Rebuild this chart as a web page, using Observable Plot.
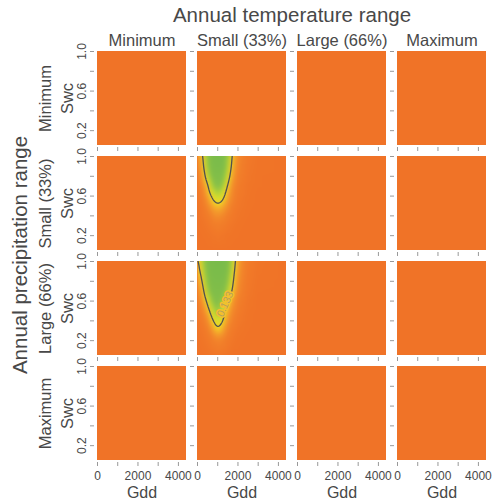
<!DOCTYPE html>
<html><head><meta charset="utf-8">
<script src="https://cdn.jsdelivr.net/npm/d3@7"></script>
<script src="https://cdn.jsdelivr.net/npm/@observablehq/plot@0.6"></script>
<style>
html,body{margin:0;padding:0;background:#fff;}
#chart{width:498px;height:500px;}
</style></head><body><div id="chart"></div>
<script>
// ---- data ----
const tempLevels = ["Minimum", "Small (33%)", "Large (66%)", "Maximum"];
const precipLevels = ["Minimum", "Small (33%)", "Large (66%)", "Maximum"];
const xTicks = [0, 1000, 2000, 3000, 4000];
const xTickLabels = [0, 2000, 4000];
const yTicks = [0.2, 0.4, 0.6, 0.8, 1.0];
const yTickLabels = [0.2, 0.6, 1.0];
const gddGrid = [0, 250, 500, 750, 1000, 1250, 1500, 1750, 2000, 2500, 3000, 4400];
const swcGrid = [1.06, 0.9, 0.8, 0.7, 0.6, 0.5, 0.4, 0.3, 0.2, 0.05];
// precipitation "Small (33%)" x temperature "Small (33%)"
const probSmallSmall = [
  [0.30, 0.52, 0.76, 0.91, 0.96, 0.91, 0.72, 0.48, 0.31, 0.11, 0.03, 0],
  [0.20, 0.45, 0.70, 0.85, 0.90, 0.85, 0.65, 0.43, 0.25, 0.08, 0.02, 0],
  [0.12, 0.38, 0.62, 0.78, 0.82, 0.78, 0.58, 0.38, 0.20, 0.06, 0.01, 0],
  [0.08, 0.28, 0.48, 0.68, 0.74, 0.68, 0.48, 0.30, 0.15, 0.04, 0.01, 0],
  [0.05, 0.20, 0.40, 0.55, 0.63, 0.56, 0.40, 0.24, 0.12, 0.03, 0, 0],
  [0.03, 0.12, 0.28, 0.42, 0.48, 0.43, 0.30, 0.17, 0.08, 0.02, 0, 0],
  [0.02, 0.07, 0.16, 0.28, 0.33, 0.28, 0.18, 0.10, 0.05, 0.01, 0, 0],
  [0.01, 0.03, 0.08, 0.15, 0.19, 0.15, 0.09, 0.05, 0.02, 0, 0, 0],
  [0, 0.01, 0.03, 0.06, 0.08, 0.06, 0.03, 0.02, 0.01, 0, 0, 0],
  [0, 0, 0, 0, 0, 0, 0, 0, 0, 0, 0, 0]
];
// precipitation "Large (66%)" x temperature "Small (33%)"
const probLargeSmall = [
  [0.43, 0.67, 0.86, 0.93, 0.96, 0.94, 0.86, 0.62, 0.41, 0.16, 0.04, 0],
  [0.38, 0.60, 0.82, 0.90, 0.92, 0.90, 0.80, 0.56, 0.36, 0.12, 0.03, 0],
  [0.30, 0.52, 0.76, 0.86, 0.88, 0.85, 0.72, 0.52, 0.32, 0.10, 0.02, 0],
  [0.22, 0.44, 0.68, 0.80, 0.83, 0.78, 0.64, 0.47, 0.28, 0.08, 0.01, 0],
  [0.15, 0.35, 0.56, 0.72, 0.76, 0.69, 0.52, 0.36, 0.20, 0.05, 0, 0],
  [0.10, 0.25, 0.43, 0.62, 0.70, 0.60, 0.42, 0.28, 0.15, 0.03, 0, 0],
  [0.06, 0.15, 0.30, 0.50, 0.60, 0.52, 0.33, 0.20, 0.10, 0.02, 0, 0],
  [0.03, 0.08, 0.18, 0.36, 0.49, 0.40, 0.22, 0.12, 0.05, 0.01, 0, 0],
  [0.01, 0.04, 0.10, 0.20, 0.27, 0.22, 0.12, 0.06, 0.02, 0, 0, 0],
  [0, 0, 0.02, 0.05, 0.07, 0.05, 0.02, 0, 0, 0, 0, 0]
];
const contourLevels = [0.5];
const contourLabels = [{precip: "Large (66%)", temp: "Small (33%)", gdd: 1370, swc: 0.57, text: "0.133"}];
const colorStops = [0, 0.25, 0.42, 0.5, 0.6, 0.72, 1];
const colorRange = ["#f07327", "#f2822a", "#f4a42c", "#f3dc22", "#cddc30", "#86c049", "#76ba4a"];

// ---- build ----
const orange = colorRange[0];
const panels = precipLevels.flatMap(precip => tempLevels.map(temp => ({precip, temp})));
const toGrid = (precip, temp, values) => values.flatMap((row, i) =>
  row.map((v, j) => ({precip, temp, gdd: gddGrid[j], swc: swcGrid[i], p: v})));
const surface = [
  ...toGrid("Small (33%)", "Small (33%)", probSmallSmall),
  ...toGrid("Large (66%)", "Small (33%)", probLargeSmall)
];
const yLabelData = precipLevels.flatMap(r => yTickLabels.map(t => ({precip: r, t})));
const xLabelData = tempLevels.flatMap(c => xTickLabels.map(t => ({temp: c, t})));
const ink = "#484848";
const xDom = [0, 4400], yDom = [0.05, 1.0];

const W = 498, H = 500, mL = 97, mR = 11, mT = 50, mB = 40;
const chart = Plot.plot({
  width: W, height: H,
  marginLeft: mL, marginRight: mR, marginTop: mT, marginBottom: mB,
  style: {fontFamily: "'Liberation Sans', Arial, sans-serif", color: ink, background: "white"},
  x: {domain: xDom, axis: null},
  y: {domain: yDom, axis: null},
  fx: {domain: tempLevels, paddingInner: 0.107, paddingOuter: 0, axis: null},
  fy: {domain: precipLevels, paddingInner: 0.107, paddingOuter: 0, axis: null},
  color: {type: "linear", domain: colorStops, range: colorRange, clamp: true},
  marks: [
    Plot.rect(panels, {fx: "temp", fy: "precip", x1: () => xDom[0], x2: () => xDom[1],
      y1: () => yDom[0], y2: () => yDom[1], fill: orange}),
    Plot.raster(surface, {x: "gdd", y: "swc", fill: "p", fx: "temp", fy: "precip",
      interpolate: "barycentric", x1: 0, x2: 4400, y1: 0.05, y2: 1.06, pixelSize: 1, blur: 2, clip: true}),
    Plot.contour(surface, {x: "gdd", y: "swc", value: "p", fx: "temp", fy: "precip",
      interpolate: "barycentric", thresholds: contourLevels, x1: 0, x2: 4400, y1: 0.05, y2: 1.06,
      pixelSize: 1, blur: 2, fill: "none", stroke: "#505050", strokeWidth: 1.3, clip: true}),
    Plot.text(contourLabels, {x: "gdd", y: "swc", fx: "temp", fy: "precip", text: "text",
      rotate: -66, fontSize: 10.5, fill: "#b8a35a", stroke: "#f4c02e", strokeWidth: 3}),
    Plot.axisX({ticks: xTicks, tickSize: 4, tickFormat: () => "", dy: 2, stroke: "#999", facetAnchor: null, label: null}),
    Plot.axisY({ticks: yTicks, tickSize: 4, tickFormat: () => "", dx: -3, stroke: "#999", facetAnchor: null, label: null}),
    Plot.text(xLabelData, {fx: "temp", fy: () => precipLevels[3], x: "t", text: d => String(d.t),
      frameAnchor: "bottom", lineAnchor: "middle", dy: 15.5, fontSize: 12}),
    Plot.text(yLabelData, {fy: "precip", fx: () => tempLevels[0], y: "t", text: d => d.t.toFixed(1),
      frameAnchor: "left", rotate: -90, textAnchor: "middle", dx: -15, fontSize: 12}),
    Plot.text(tempLevels, {fx: d => d, fy: () => precipLevels[0], text: d => d,
      frameAnchor: "top", lineAnchor: "bottom", dy: -5.5, fontSize: 16.5}),
    Plot.text(tempLevels, {fx: d => d, fy: () => precipLevels[3], text: () => "Gdd",
      frameAnchor: "bottom", lineAnchor: "bottom", dy: 37, fontSize: 16}),
    Plot.text(precipLevels, {fy: d => d, fx: () => tempLevels[0], text: d => d,
      frameAnchor: "left", rotate: -90, textAnchor: "middle", dx: -52, fontSize: 16.5}),
    Plot.text(precipLevels, {fy: d => d, fx: () => tempLevels[0], text: () => "Swc",
      frameAnchor: "left", rotate: -90, textAnchor: "middle", dx: -30, fontSize: 16.5})
  ]
});
const svg = d3.select(chart);
const cx = mL + (W - mL - mR) / 2, cy = mT + (H - mT - mB) / 2;
svg.append("text").attr("x", cx).attr("y", 22).attr("text-anchor", "middle")
  .attr("font-size", 20.5).attr("fill", ink).text("Annual temperature range");
svg.append("text").attr("transform", `translate(20,${cy}) rotate(-90)`).attr("dy", "0.32em")
  .attr("text-anchor", "middle").attr("font-size", 20.5).attr("fill", ink).text("Annual precipitation range");
document.getElementById("chart").appendChild(chart);
</script></body></html>
